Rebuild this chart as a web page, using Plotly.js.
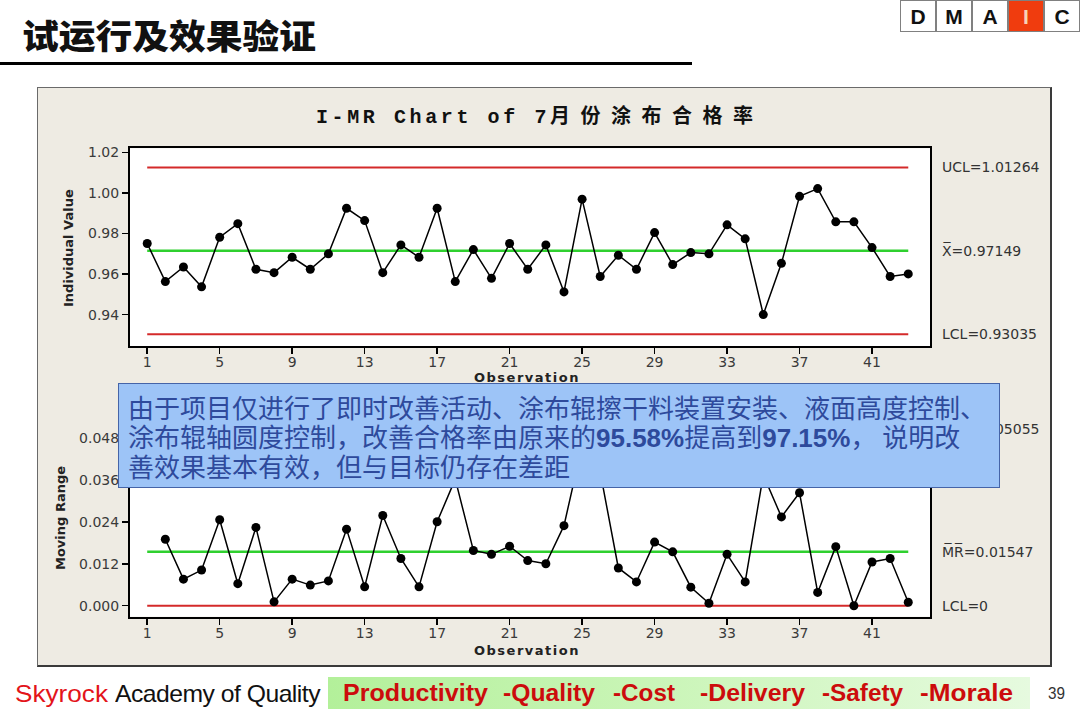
<!DOCTYPE html>
<html><head><meta charset="utf-8">
<script src="https://cdn.plot.ly/plotly-3.0.1.min.js"></script>
<style>
html,body{margin:0;padding:0;background:#fff;width:1080px;height:709px;overflow:hidden;position:relative;font-family:"Liberation Sans",sans-serif}
.abs{position:absolute;white-space:pre}
.fit{display:inline-block;transform-origin:left center}
.dm{position:absolute;top:0;width:36px;height:32px;box-sizing:border-box;border:1px solid #808080;font:bold 21px "Liberation Sans",sans-serif;text-align:center;line-height:31px;color:#111;background:#fff}
#chart{position:absolute;left:37px;top:87px;width:1015px;height:580px}
#frame{position:absolute;left:37px;top:87px;width:1015px;height:580px;box-sizing:border-box;border:1px solid #6a6a6a;border-right:2px solid #3a3a3a;border-bottom:2px solid #3a3a3a;pointer-events:none}
#note{position:absolute;left:118px;top:383px;width:882px;height:105px;box-sizing:border-box;background:#9dc4f7;border:1px solid #4564a8;padding:9px 0 0 9px;font:26px/28.5px "Noto Sans CJK SC",sans-serif;color:#2e4a9c;white-space:nowrap;z-index:5}
#note b{font-family:"Liberation Sans",sans-serif;font-weight:bold}
#green{position:absolute;left:328px;top:677px;width:702px;height:32px;background:linear-gradient(to right,#b3f09a 0%,#c9f5b6 45%,#e6fadf 100%)}
.ft{font:bold 24px "Liberation Sans",sans-serif;color:#cc0c0c;top:679px;line-height:28px}
</style></head><body>

<div class="abs" id="hdr" style="left:22px;top:15px;font:900 34px/40px 'Noto Sans CJK SC',sans-serif;color:#111"><span class="fit" data-w="294">试运行及效果验证</span></div>
<div class="abs" style="left:0;top:62px;width:692px;height:3px;background:#000"></div>

<div class="dm" style="left:900px">D</div>
<div class="dm" style="left:936px">M</div>
<div class="dm" style="left:972px">A</div>
<div class="dm" style="left:1008px;background:#f03c0e;color:#f7d2b8">I</div>
<div class="dm" style="left:1044px">C</div>

<div id="chart"></div>
<div id="frame"></div>

<div id="note">由于项目仅进行了即时改善活动、涂布辊擦干料装置安装、液面高度控制、<br>涂布辊轴圆度控制，改善合格率由原来的<b>95.58%</b>提高到<b>97.15%</b>， 说明改<br>善效果基本有效，但与目标仍存在差距</div>

<div class="abs" style="left:15px;top:680px;font:24px/28px 'Liberation Sans',sans-serif;color:#e3141a"><span class="fit" data-w="93">Skyrock</span></div>
<div class="abs" style="left:115px;top:680px;font:24px/28px 'Liberation Sans',sans-serif;color:#111;letter-spacing:-0.5px"><span class="fit" data-w="205">Academy of Quality</span></div>
<div id="green"></div>
<div class="abs ft" style="left:343px"><span class="fit" data-w="145">Productivity</span></div>
<div class="abs ft" style="left:503px"><span class="fit" data-w="92">-Quality</span></div>
<div class="abs ft" style="left:613px"><span class="fit" data-w="62">-Cost</span></div>
<div class="abs ft" style="left:700px"><span class="fit" data-w="105">-Delivery</span></div>
<div class="abs ft" style="left:822px"><span class="fit" data-w="81">-Safety</span></div>
<div class="abs ft" style="left:920px"><span class="fit" data-w="93">-Morale</span></div>
<div class="abs" style="left:1048px;top:684px;font:16px/20px 'Liberation Sans',sans-serif;color:#333"><span class="fit" data-w="17">39</span></div>

<script>
// ---- data ----
const observations = [1,2,3,4,5,6,7,8,9,10,11,12,13,14,15,16,17,18,19,20,21,22,23,24,25,26,27,28,29,30,31,32,33,34,35,36,37,38,39,40,41,42,43];
const individualValues = [0.9751,0.9563,0.9635,0.9537,0.9782,0.9849,0.9624,0.9607,0.9683,0.9624,
  0.9700,0.9925,0.9864,0.9607,0.9744,0.9683,0.9925,0.9563,0.9721,0.9579,
  0.9751,0.9624,0.9744,0.9512,0.9970,0.9588,0.9693,0.9624,0.9805,0.9647,
  0.9706,0.9700,0.9843,0.9774,0.9400,0.9653,0.9984,1.0022,0.9858,0.9858,
  0.9731,0.9588,0.9601];
const mrObservations = [2,3,4,5,6,7,8,9,10,11,12,13,14,15,16,17,18,19,20,21,22,23,24,25,26,27,28,29,30,31,32,33,34,35,36,37,38,39,40,41,42,43];
const movingRanges = [0.0190,0.0076,0.0102,0.0246,0.0063,0.0224,0.0011,0.0076,0.0059,
  0.0071,0.0219,0.0054,0.0258,0.0135,0.0054,0.0240,0.0362,0.0158,0.0147,
  0.0170,0.0129,0.0120,0.0229,0.0458,0.0382,0.0108,0.0068,0.0182,0.0154,
  0.0053,0.0007,0.0147,0.0068,0.0374,0.0254,0.0323,0.0038,0.0169,0.0000,
  0.0125,0.0135,0.0010];
const xTicks = [1,5,9,13,17,21,25,29,33,37,41];
const iTicks = [0.94,0.96,0.98,1.00,1.02];
const mrTicks = [0.000,0.012,0.024,0.036,0.048];
const iUCL = 1.01264, iMean = 0.97149, iLCL = 0.93035;
const mrUCL = 0.05055, mrMean = 0.01547, mrLCL = 0;
const titleLatin = 'I-MR Chart of 7';
const titleCJK = '月份涂布合格率';
const iLabels = ['UCL=1.01264', 'X\u0305=0.97149', 'LCL=0.93035'];
const mrLabels = ['UCL=0.05055', 'M\u0305R\u0305=0.01547', 'LCL=0'];

// ---- styling ----
const RED = '#d42a2a', GREEN = '#2fd02f';
const FONT = 'DejaVu Sans, Verdana, sans-serif';
const xFirst = observations[0], xLast = observations[observations.length - 1];

function limitTrace(y, color, xa, ya, w) {
  return {x:[xFirst, xLast], y:[y, y], mode:'lines', line:{color:color, width:w},
          xaxis:xa, yaxis:ya, hoverinfo:'skip', showlegend:false};
}
const dataStyle = {mode:'lines+markers', line:{color:'#000', width:1.5},
                   marker:{color:'#000', size:9}, showlegend:false};

const traces = [
  limitTrace(iUCL, RED, 'x', 'y', 2),
  limitTrace(iLCL, RED, 'x', 'y', 2),
  limitTrace(iMean, GREEN, 'x', 'y', 2.5),
  Object.assign({x:observations, y:individualValues, xaxis:'x', yaxis:'y'}, dataStyle),
  limitTrace(mrUCL, RED, 'x2', 'y2', 2),
  limitTrace(mrLCL, RED, 'x2', 'y2', 2),
  limitTrace(mrMean, GREEN, 'x2', 'y2', 2.5),
  Object.assign({x:mrObservations, y:movingRanges, xaxis:'x2', yaxis:'y2'}, dataStyle)
];

const W = 1015, H = 580;
const xDom = [93/W, 893/W];
const axCommon = {showline:true, mirror:true, linecolor:'#000', linewidth:2,
  ticks:'outside', ticklen:6, tickwidth:1.5, tickcolor:'#000',
  showgrid:false, zeroline:false, tickfont:{family:FONT, size:14, color:'#3a3a3a'}, fixedrange:true};
const xCommon = Object.assign({}, axCommon, {domain:xDom, range:[0.05, 44.2], tickvals:xTicks, ticklabelstandoff:-4});

const layout = {
  width:W, height:H, margin:{l:0, r:0, t:0, b:0},
  paper_bgcolor:'#eeebe3', plot_bgcolor:'#ffffff', showlegend:false,
  xaxis: Object.assign({}, xCommon, {anchor:'y'}),
  yaxis: Object.assign({}, axCommon, {domain:[321/H, 518.7/H], range:[0.9245, 1.0221], tickvals:iTicks, tickformat:'.2f', anchor:'x'}),
  xaxis2: Object.assign({}, xCommon, {anchor:'y2'}),
  yaxis2: Object.assign({}, axCommon, {domain:[50.3/H, 248/H], range:[-0.00314, 0.0534], tickvals:mrTicks, tickformat:'.3f', anchor:'x2'}),
  annotations: []
};

const A = layout.annotations;
A.push({xref:'paper', yref:'paper', x:503/W, y:1 - 29/H, xanchor:'center', yanchor:'middle', showarrow:false,
  text:'<span style="letter-spacing:3.6px">' + titleLatin + '</span><span style="letter-spacing:10.5px">' + titleCJK + '</span>',
  font:{family:'Liberation Mono, Noto Sans CJK SC, monospace', size:20, color:'#111', weight:'bold'}});
A.push({xref:'paper', yref:'paper', x:31/W, y:1 - 161/H, textangle:-90, showarrow:false, xanchor:'center', yanchor:'middle',
  text:'Individual Value', font:{family:FONT, size:13, color:'#222', weight:'bold'}});
A.push({xref:'paper', yref:'paper', x:23/W, y:1 - 431/H, textangle:-90, showarrow:false, xanchor:'center', yanchor:'middle',
  text:'Moving Range', font:{family:FONT, size:13, color:'#222', weight:'bold'}});
[291, 563].forEach(py => A.push({xref:'paper', yref:'paper', x:490/W, y:1 - py/H, showarrow:false, xanchor:'center', yanchor:'middle',
  text:'<span style="letter-spacing:1.5px">Observation</span>', font:{family:FONT, size:13, color:'#222', weight:'bold'}}));
const labX = 903/W;
[iUCL, iMean, iLCL].forEach((v, i) => A.push({xref:'paper', yref:'y', x:labX, y:v, xanchor:'left', yanchor:'middle', showarrow:false,
  text:iLabels[i], font:{family:FONT, size:14, color:'#333'}}));
[mrUCL, mrMean, mrLCL].forEach((v, i) => A.push({xref:'paper', yref:'y2', x:labX, y:v, xanchor:'left', yanchor:'middle', showarrow:false,
  text:mrLabels[i], font:{family:FONT, size:14, color:'#333'}}));

Plotly.newPlot('chart', traces, layout, {staticPlot:true, displayModeBar:false});

function fitAll() {
  document.querySelectorAll('.fit').forEach(el => {
    el.style.transform = 'none';
    const w = el.getBoundingClientRect().width;
    const t = parseFloat(el.dataset.w);
    if (w > 0) el.style.transform = 'scaleX(' + (t / w).toFixed(4) + ')';
  });
}
fitAll();
if (document.fonts && document.fonts.ready) document.fonts.ready.then(fitAll);
</script>
</body></html>
